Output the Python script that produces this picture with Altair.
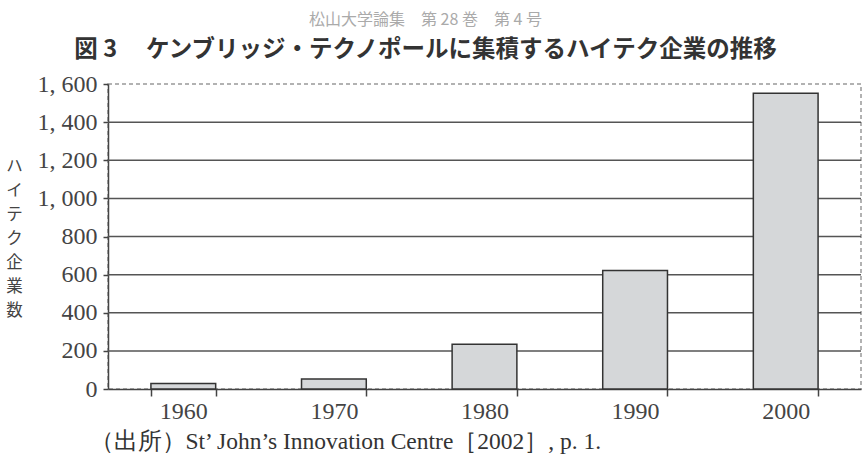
import altair as alt
import pandas as pd

years = ["1960", "1970", "1980", "1990", "2000"]
firms = [29, 52, 235, 621, 1552]
grid_values = [200, 400, 600, 800, 1000, 1200, 1400]
y_ticks = [0, 200, 400, 600, 800, 1000, 1200, 1400, 1600]

header = "松山大学論集　第 28 巻　第 4 号"
fig_title = "図 3　 ケンブリッジ・テクノポールに集積するハイテク企業の推移"
y_title = "ハイテク企業数"
source = "（出所）St’ John’s Innovation Centre［2002］, p. 1."

df = pd.DataFrame({"year": years, "firms": firms})
gdf = pd.DataFrame({"v": grid_values})

SERIF = "Liberation Serif"
JP = "Noto Sans CJK JP"

yscale = alt.Scale(domain=[0, 1600], nice=False)

y_axis = alt.Axis(
    values=y_ticks,
    labelExpr="replace(format(datum.value, ',d'), ',', ', ')",
    labelOverlap=False,
    labelFlush=False,
    grid=False,
    title=list(y_title),
    titleAngle=0,
    titleFont=JP,
    titleFontSize=16.5,
    titleFontWeight="normal",
    titleColor="#444444",
    titleAlign="center",
    titleBaseline="top",
    titleLineHeight=24,
    titleX=-94,
    titleY=74,
    labelFont=SERIF,
    labelFontSize=24,
    labelColor="#444444",
    labelPadding=6,
    tickSize=5,
    tickColor="#444444",
    tickWidth=1.5,
    domainColor="#444444",
    domainWidth=1.5,
)

grid = alt.Chart(gdf).mark_rule(color="#555555", strokeWidth=1.5).encode(
    y=alt.Y("v:Q", scale=yscale, axis=y_axis)
)

bars = alt.Chart(df).mark_bar(
    fill="#d5d7d9", stroke="#333333", strokeWidth=1.5
).encode(
    x=alt.X(
        "year:N",
        sort=years,
        scale=alt.Scale(paddingInner=0.57, paddingOuter=0.285),
        axis=alt.Axis(
            title=source,
            titleFont=SERIF,
            titleFontSize=23.5,
            titleFontWeight="normal",
            titleColor="#333333",
            titleAnchor="start",
            titleAlign="left",
            titleBaseline="alphabetic",
            titleX=-19,
            titleY=59,
            labelAngle=0,
            labelFont=SERIF,
            labelFontSize=24,
            labelColor="#444444",
            labelPadding=3,
            labelOverlap=False,
            tickBand="extent",
            tickSize=7,
            tickColor="#444444",
            tickWidth=1.5,
            domainColor="#444444",
            domainWidth=1.5,
        ),
    ),
    y=alt.Y("firms:Q", scale=yscale, axis=y_axis),
)

chart = alt.layer(grid, bars).properties(
    width=753,
    height=305,
    title=alt.TitleParams(
        text=header,
        subtitle=fig_title,
        font=JP,
        fontSize=16,
        fontWeight="normal",
        color="#aaaaaa",
        subtitleFont=JP,
        subtitleFontSize=23.5,
        subtitleFontWeight="bold",
        subtitleColor="#333333",
        subtitlePadding=10,
        anchor="middle",
        dx=-59,
        offset=11,
    ),
    autosize=alt.AutoSizeParams(type="none"),
    padding={"left": 108, "top": 84, "right": 5, "bottom": 77},
).configure_view(
    stroke="#999999", strokeDash=[4, 3], strokeWidth=1.5
)

chart.save("out.html", embed_options={"renderer": "svg", "actions": False})
